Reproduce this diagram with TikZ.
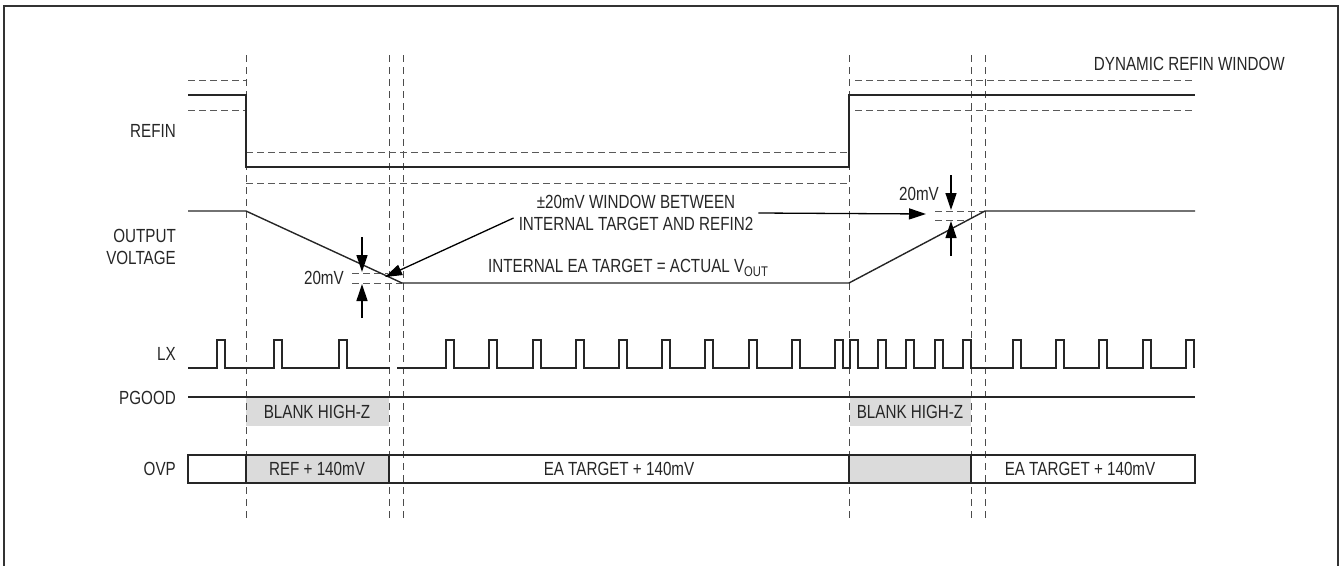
\documentclass[tikz,border=0pt]{standalone}
\usepackage{fontspec}
\setmainfont[FakeStretch=0.8]{Liberation Sans}
\usetikzlibrary{arrows.meta}

\tikzset{
  sig/.style={line width=1.4pt, black!85},
  guide/.style={line width=0.9pt, black!70, dash pattern=on 7pt off 5pt},
  win/.style={line width=0.9pt, black!65, dash pattern=on 7pt off 4pt},
  lbl/.style={font=\fontsize{19}{22}\selectfont, inner sep=1pt, text=black!85},
  callout/.style={line width=1.3pt, -{Triangle[length=17pt,width=11pt]}},
  blank/.style={fill=gray!28, draw=none}
}

\begin{document}
\begin{tikzpicture}[x=1pt,y=-1pt]
\useasboundingbox (0,0) rectangle (1341,565);
\draw[line width=2pt, black!80] (4,575) -- (4,6) -- (1338,6) -- (1338,575);

% gray areas
\fill[blank] (246,397) rectangle (389,426);
\fill[blank] (850,397) rectangle (971,426);
\fill[blank] (246,455) rectangle (389,483);
\fill[blank] (849,455) rectangle (971,483);

% time markers
\foreach \t in {246,389,403,849,971,985}
  \draw[guide] (\t,55) -- (\t,522);

% refin windows
\draw[win] (188,80) -- (246,80);
\draw[win] (188,110) -- (246,110);
\draw[win] (246,152) -- (849,152);
\draw[win] (246,183) -- (849,183);
\draw[win] (855,80) -- (1195,80);
\draw[win] (855,110) -- (1195,110);
\draw[sig] (188,95) -- (246,95) -- (246,167) -- (849,167) -- (849,95) -- (1195,95);

% output voltage
\draw[win] (352,273) -- (388,273);
\draw[win] (352,283) -- (402,283);
\draw[win] (935,211) -- (985,211);
\draw[win] (935,220) -- (968,220);
\draw[sig] (188,211) -- (246,211) -- (402,283) -- (849,283) -- (985,211) -- (1195,211);

\coordinate (dnL) at (362,272);
\coordinate (upL) at (362,284);
\coordinate (dnR) at (951,210);
\coordinate (upR) at (951,221);
\draw[callout] (362,237) -- (dnL);
\draw[callout] (362,318) -- (upL);
\draw[callout] (951,175) -- (dnR);
\draw[callout] (951,256) -- (upR);

\node[lbl, anchor=east] (mvL) at (345,278) {20mV};
\node[lbl, anchor=east] (mvR) at (940,194) {20mV};

\node[lbl, align=center] (win) at (636,213) {±20mV WINDOW BETWEEN\\INTERNAL TARGET AND REFIN2};
\coordinate (tipL) at (385,277);
\coordinate (tipR) at (926,214);
\draw[callout] (win.west) ++(-4,5) -- (tipL);
\draw[callout] (win.east) ++(4,0) -- (tipR);
\node[lbl] (ea) at (628,268) {INTERNAL EA TARGET = ACTUAL V\raisebox{-0.35ex}{\fontsize{14}{15}\selectfont OUT}};
\node[lbl, anchor=east] (dyn) at (1286,64) {DYNAMIC REFIN WINDOW};

% LX
\draw[sig] (188,368) \foreach \p in {217,274,339} { -- (\p,368) -- (\p,340) -- (\p+8,340) -- (\p+8,368) } -- (390,368);
\draw[sig] (397,368) \foreach \p in {446,489,533,576,619,662,705,749,792,835,850,878,906,935,963,1013,1056,1099,1143,1186} { -- (\p,368) -- (\p,340) -- (\p+8,340) -- (\p+8,368) };

% PGOOD
\draw[sig] (188,397) -- (1195,397);
\node[lbl] (blank1) at (317,412) {BLANK HIGH-Z};
\node[lbl] (blank2) at (910,412) {BLANK HIGH-Z};

% OVP
\draw[sig] (188,455) rectangle (1195,483);
\foreach \t in {246,389,849,971}
  \draw[sig] (\t,455) -- (\t,483);
\node[lbl] (ovpref) at (317,469) {REF + 140mV};
\node[lbl] (ovpea1) at (619,469) {EA TARGET + 140mV};
\node[lbl] (ovpea2) at (1080,469) {EA TARGET + 140mV};

% signal names
\node[lbl, anchor=east] (refin) at (177,131) {REFIN};
\node[lbl, anchor=east, align=right] (vout) at (177,247) {OUTPUT\\VOLTAGE};
\node[lbl, anchor=east] (lx) at (177,354) {LX};
\node[lbl, anchor=east] (pgood) at (177,398) {PGOOD};
\node[lbl, anchor=east] (ovp) at (177,469) {OVP};
\end{tikzpicture}
\end{document}
